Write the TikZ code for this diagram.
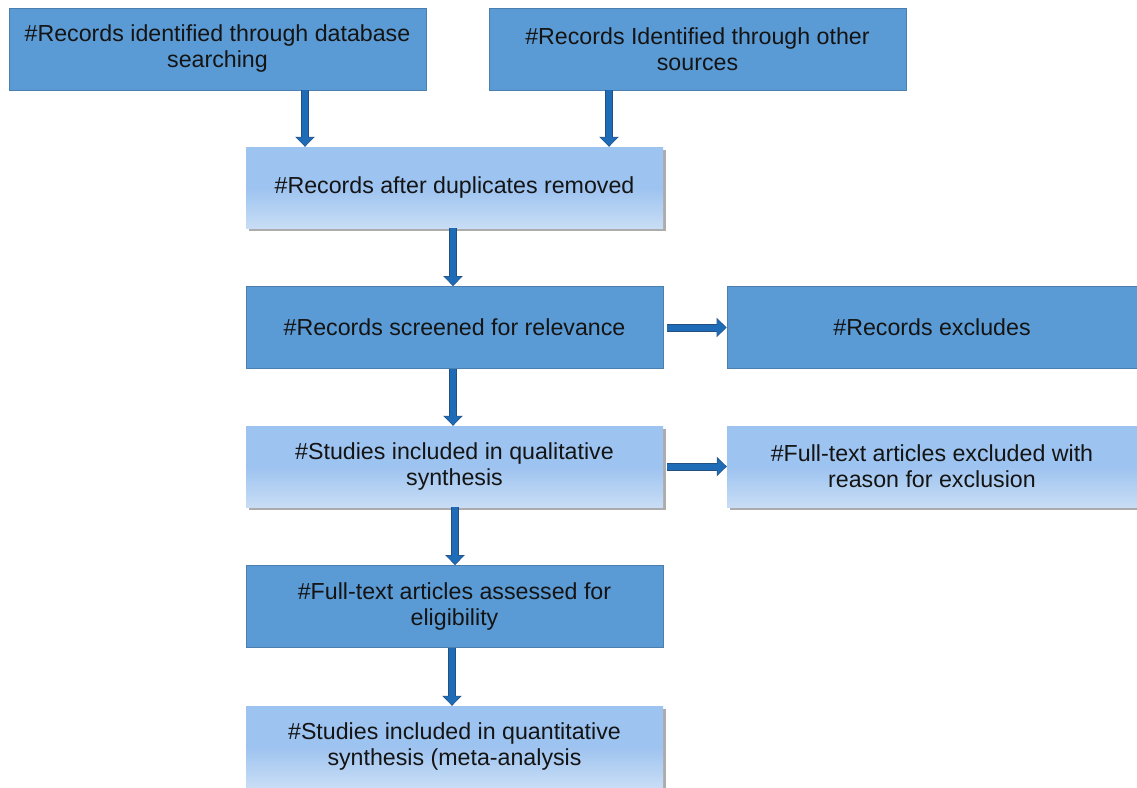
\documentclass[tikz,border=0pt]{standalone}
\usepackage{fontspec}
\setmainfont{Liberation Sans}
\usetikzlibrary{arrows.meta,shadows,calc}
\definecolor{darkbox}{HTML}{5B9BD5}
\definecolor{darkedge}{HTML}{4A7FB0}
\definecolor{lighttop}{HTML}{9DC3F0}
\definecolor{lightbot}{HTML}{C8DDF5}
\definecolor{arrfill}{HTML}{1E6CB8}
\definecolor{arredge}{HTML}{24507F}
\tikzset{
  x=1pt,y=-1pt,
  boxtext/.style={font=\fontsize{23.2}{26}\selectfont, align=center, text=black!92},
  darkbx/.style={boxtext, draw=darkedge, line width=0.8pt, fill=darkbox, minimum height=82pt, inner sep=0pt},
  lightbx/.style={boxtext, draw=none, top color=lighttop, bottom color=lightbot, middle color=lighttop, shading angle=0,
     minimum height=81pt, inner sep=0pt,
     drop shadow={shadow xshift=3pt, shadow yshift=-3pt, fill=black!50, opacity=0.65}},
  bigarrow/.style={draw=arredge, line width=8pt, -{Triangle[width=19pt,length=10pt]}},
  bigarrowin/.style={draw=arrfill, line width=6pt, -{Triangle[width=16pt,length=8.5pt]}},
}
\newcommand{\fatarrow}[2]{%
  \draw[bigarrow] #1 -- #2;
  \draw[bigarrowin,shorten >=0.9pt] #1 -- #2;}
\newcommand{\lowered}[1]{\raisebox{-2pt}{\begin{tabular}{@{}c@{}}#1\end{tabular}}}
\begin{document}
\begin{tikzpicture}
\useasboundingbox (0,0) rectangle (1137,787);
\node[darkbx, minimum width=417pt] (n1) at (217.5,49) {\#Records identified through database\\searching};
\node[darkbx, minimum width=417pt] (n2) at (697.5,49) {\#Records Identified through other\\sources};
\node[lightbx, minimum width=417pt] (n3) at (454.5,187.5) {\#Records after duplicates removed};
\node[darkbx, minimum width=417pt] (n4) at (454.5,327.5) {\#Records screened for relevance};
\node[darkbx, minimum width=410pt] (n5) at (932,327.5) {\#Records excludes};
\node[lightbx, minimum width=417pt] (n6) at (454.5,466.5) {\#Studies included in qualitative\\synthesis};
\node[lightbx, minimum width=410pt] (n7) at (932,466.5) {\#Full-text articles excluded with\\reason for exclusion};
\node[darkbx, minimum width=417pt] (n8) at (454.5,606.5) {\#Full-text articles assessed for\\eligibility};
\node[lightbx, minimum width=417pt] (n9) at (454.5,746.5) {\#Studies included in quantitative\\synthesis (meta-analysis};
\fatarrow{(n1.south -| 305,0)}{(n3.north -| 305,0)}
\fatarrow{(n2.south -| 609,0)}{(n3.north -| 609,0)}
\fatarrow{(n3.south -| 453,0)}{(n4.north -| 453,0)}
\fatarrow{(n4.south -| 453,0)}{(n6.north -| 453,0)}
\fatarrow{(n6.south -| 455,0)}{(n8.north -| 455,0)}
\fatarrow{(n8.south -| 452,0)}{(n9.north -| 452,0)}
\fatarrow{($(n4.east)+(4,0)$)}{(n5.west)}
\fatarrow{($(n6.east)+(4,0)$)}{(n7.west)}
\end{tikzpicture}
\end{document}
